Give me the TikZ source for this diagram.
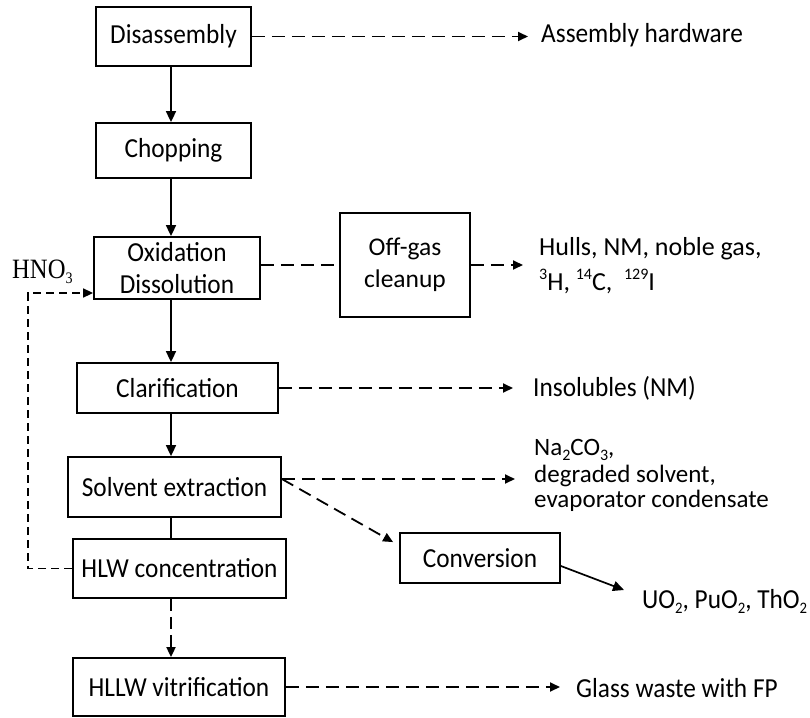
\documentclass[tikz,border=0pt]{standalone}
\usepackage{fontspec}
\setmainfont{Carlito}
\newfontfamily\narrow[FakeStretch=0.92]{Carlito}
\newfontfamily\chemserif[FakeStretch=0.88]{Liberation Serif}
\usetikzlibrary{arrows.meta}
% chemical sub- and superscripts
\newcommand\csub[1]{\raisebox{-0.2em}{\fontsize{16}{16}\selectfont #1}}
\newcommand\csup[1]{\raisebox{0.42em}{\fontsize{16}{16}\selectfont #1}}
\begin{document}
\begin{tikzpicture}[x=1pt,y=-1pt,
  every node/.style={font=\fontsize{25}{25}\selectfont},
  boxfont/.style={font=\narrow\fontsize{27.5}{32}\selectfont},
  stage/.style={draw, line width=1.8pt, inner sep=0pt, align=center, boxfont},
  flow/.style={line width=1.7pt, -{Triangle[length=11pt,width=10pt]}},
  waste/.style={line width=1.8pt, dash pattern=on 13pt off 7pt, -{Triangle[length=10pt,width=9pt]}},
  wasteline/.style={line width=1.8pt, dash pattern=on 13pt off 7pt},
  recycle/.style={line width=1.6pt, dash pattern=on 8pt off 5pt, -{Triangle[length=10pt,width=9pt]}},
  lbl/.style={anchor=base west, inner sep=0pt}]
\useasboundingbox (0,0) rectangle (810,717);

% process stages
\node[stage, minimum width=155pt, minimum height=59pt] (dis) at (173.5,36.5) {Disassembly};
\node[stage, minimum width=155pt, minimum height=55pt] (chop) at (173.5,150.5) {Chopping};
\node[stage, minimum width=166pt, minimum height=62pt] (ox) at (177,268) {Oxidation\\Dissolution};
\node[stage, minimum width=130pt, minimum height=104pt, font=\fontsize{25.5}{32}\selectfont] (offgas) at (405,265) {Off-gas\\cleanup};
\node[stage, minimum width=201pt, minimum height=50pt] (clar) at (177.5,388) {Clarification};
\node[stage, minimum width=213pt, minimum height=60pt] (solv) at (174.5,487) {Solvent extraction};
\node[stage, minimum width=160pt, minimum height=50pt] (conv) at (480,558) {Conversion};
\node[stage, minimum width=213pt, minimum height=59pt] (hlw) at (179.5,568.5) {HLW concentration};
\node[stage, minimum width=212pt, minimum height=58pt] (vit) at (179,687) {HLLW vitrification};

% streams leaving the process
\node[lbl, boxfont] (hw) at (541,43) {Assembly hardware};
\node[lbl, font=\fontsize{26}{26}\selectfont] (hulls) at (539,255) {Hulls, NM, noble gas,};
\node[lbl, font=\fontsize{26}{26}\selectfont] (iso) at (539,290) {\csup{3}H, \csup{14}C,\ \ \csup{129}I};
\node[lbl, boxfont] (ins) at (533,396) {Insolubles (NM)};
\node[lbl] (na) at (534,455) {Na\csub{2}CO\csub{3},};
\node[lbl] (deg) at (534,482) {degraded solvent,};
\node[lbl] (eva) at (534,507) {evaporator condensate};
\node[lbl, boxfont] (uo) at (642,608) {UO\csub{2}, PuO\csub{2}, ThO\csub{2}};
\node[lbl, boxfont] (glass) at (576,697) {Glass waste with FP};
\node[lbl, font=\chemserif\fontsize{28}{28}\selectfont] (hno) at (12,278) {HNO\csub{3}};

% helper coordinates
\coordinate (spine) at (171,0);
\coordinate (ret) at (28,0);
\coordinate (rin) at ([yshift=-25pt]ox.west);
\coordinate (solvout) at ([yshift=8pt]solv.east);
\coordinate (convin) at ([shift={(-6pt,-10pt)}]conv.north west);
\coordinate (convout) at ([yshift=-8pt]conv.east);
\coordinate (uotip) at (624,590);

% main flow
\draw[flow] (dis.south -| spine) -- (chop.north -| spine);
\draw[flow] (chop.south -| spine) -- (ox.north -| spine);
\draw[flow] (ox.south -| spine) -- (clar.north -| spine);
\draw[flow] (clar.south -| spine) -- (solv.north -| spine);
\draw[line width=1.7pt] (solv.south -| spine) -- (hlw.north -| spine);
\draw[waste, dash pattern=on 12pt off 6pt] (hlw.south -| spine) -- (vit.north -| spine);

% side streams
\draw[waste, shorten >=13pt] (dis.east) -- (dis.east -| hw.west);
\draw[wasteline] (ox.east |- offgas.west) -- (offgas.west);
\draw[waste, shorten >=16pt] (offgas.east) -- (offgas.east -| hulls.west);
\draw[waste, shorten >=20pt] (clar.east) -- (clar.east -| ins.west);
\draw[waste, shorten >=19pt] (solvout) -- (solvout -| deg.west);
\draw[waste] (solvout) -- (convin);
\draw[flow] (convout) -- (uotip);
\draw[waste, shorten >=16pt] (vit.east) -- (vit.east -| glass.west);

% acid recycle to dissolution
\draw[recycle] (hlw.west) -- (ret |- hlw.west) -- (ret |- rin) -- (rin);
\end{tikzpicture}
\end{document}
